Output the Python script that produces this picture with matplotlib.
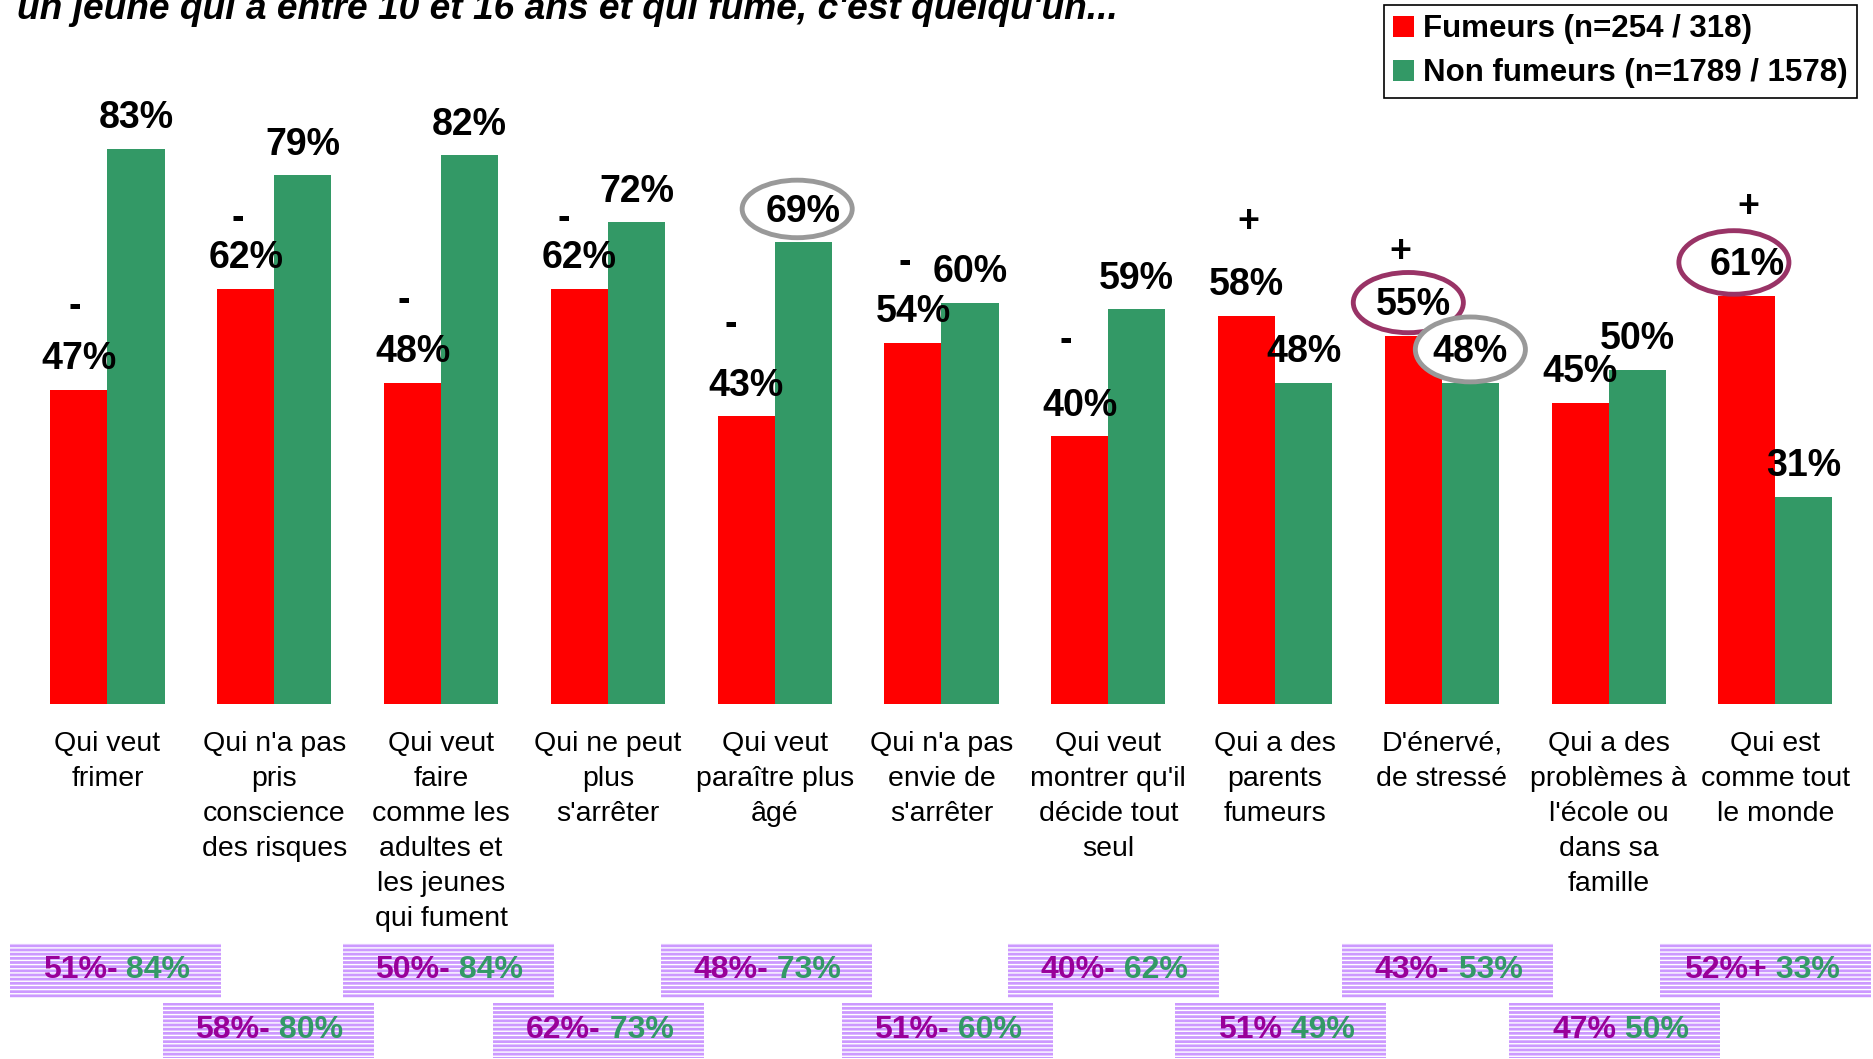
import numpy as np
import matplotlib.pyplot as plt
from matplotlib.patches import Ellipse, Rectangle

plt.rcParams['font.family'] = ['Liberation Sans', 'DejaVu Sans']
plt.rcParams['hatch.linewidth'] = 1.0

# Donnees
titre = "un jeune qui a entre 10 et 16 ans et qui fume, c'est quelqu'un..."
categories = ["Qui veut\nfrimer",
              "Qui n'a pas\npris\nconscience\ndes risques",
              "Qui veut\nfaire\ncomme les\nadultes et\nles jeunes\nqui fument",
              "Qui ne peut\nplus\ns'arrêter",
              "Qui veut\nparaître plus\nâgé",
              "Qui n'a pas\nenvie de\ns'arrêter",
              "Qui veut\nmontrer qu'il\ndécide tout\nseul",
              "Qui a des\nparents\nfumeurs",
              "D'énervé,\nde stressé",
              "Qui a des\nproblèmes à\nl'école ou\ndans sa\nfamille",
              "Qui est\ncomme tout\nle monde"]
fumeurs = [47, 62, 48, 62, 43, 54, 40, 58, 55, 45, 61]
non_fumeurs = [83, 79, 82, 72, 69, 60, 59, 48, 48, 50, 31]
signes = ['-', '-', '-', '-', '-', '-', '-', '+', '+', '', '+']
legende = ["Fumeurs (n=254 / 318)", "Non fumeurs (n=1789 / 1578)"]

# vague precedente (cartouches du bas)
avant_fumeurs = [51, 58, 50, 62, 48, 51, 40, 51, 43, 47, 52]
avant_signes = ['-', '-', '-', '-', '-', '-', '-', '', '-', '', '+']
avant_non_fumeurs = [84, 80, 84, 73, 73, 60, 62, 49, 53, 50, 33]

# valeurs entourees : (groupe, serie, couleur)
entoures = [(4, 1, '#999999'), (8, 0, '#993366'), (8, 1, '#999999'), (10, 0, '#993366')]

# reglages de placement faits a la main
signe_dx = [-0.025, -0.05, -0.05, -0.095, -0.095, -0.05, -0.085, 0.01, -0.08, 0, 0.01]
signe_dy = [12.3, 10.5, 12.2, 10.5, 13.6, 11.9, 14.3, 14.1, 12.5, 0, 13.3]
ellipse_dx = [-0.036, -0.03, 0.0, -0.078]
ellipse_h = [8.6, 9.0, 9.7, 9.5]
cartouche_dx = [0.048, -0.035, 0.042, -0.054, -0.048, 0.036, 0.03, 0.03, 0.036, 0.036, -0.06]

ROUGE = '#FF0000'
VERT = '#339966'
VIOLET = '#990099'

fig = plt.figure(figsize=(18.74, 10.59), dpi=100)
ax = fig.add_axes([0, 0, 1, 1])
ax.set_xlim(-0.6445, 10.591)
ax.set_ylim(-53.06, 105.23)
ax.axis('off')

x = np.arange(len(categories))
w = 0.342
b1 = ax.bar(x - w / 2, fumeurs, w, color=ROUGE, zorder=1)
b2 = ax.bar(x + w / 2, non_fumeurs, w, color=VERT, zorder=1)

for i in range(len(categories)):
    ax.text(x[i] - w / 2, fumeurs[i] + 4.6, f"{fumeurs[i]}%", ha='center', va='center',
            fontsize=27, fontweight='bold', zorder=4)
    ax.text(x[i] + w / 2, non_fumeurs[i] + 4.6, f"{non_fumeurs[i]}%", ha='center', va='center',
            fontsize=27, fontweight='bold', zorder=4)
    if signes[i]:
        ax.text(x[i] - w / 2 + signe_dx[i], fumeurs[i] + signe_dy[i], signes[i], ha='center',
                va='center', fontsize=27, fontweight='bold', zorder=4)
    ax.text(x[i], -4.0, categories[i], ha='center', va='top', fontsize=20.5, linespacing=1.45)

for k, (g, s, c) in enumerate(entoures):
    v = fumeurs[g] if s == 0 else non_fumeurs[g]
    xc = x[g] + (w / 2 if s == 1 else -w / 2) + ellipse_dx[k]
    e = Ellipse((xc, v + 5.0), 0.66, ellipse_h[k], facecolor='white', edgecolor=c,
                linewidth=3.5, zorder=2)
    ax.add_patch(e)

# cartouches vague precedente
bw = 1.265
for i in range(len(categories)):
    if i % 2 == 0:
        y0, y1 = -43.9, -35.7
    else:
        y0, y1 = -52.9, -44.7
    xc = x[i] + cartouche_dx[i]
    r = Rectangle((xc - bw / 2, y0), bw, y1 - y0, facecolor='#CC99FF', edgecolor='white',
                  hatch='----', linewidth=0, zorder=1)
    ax.add_patch(r)
    yc = (y0 + y1) / 2
    ax.text(xc + 0.01, yc, f"{avant_fumeurs[i]}%{avant_signes[i]}", ha='right', va='center',
            fontsize=23, fontweight='bold', color=VIOLET, zorder=3)
    ax.text(xc + 0.01, yc, f" {avant_non_fumeurs[i]}%", ha='left', va='center',
            fontsize=23, fontweight='bold', color=VERT, zorder=3)

fig.text(17 / 1874, 1 - 19 / 1059, titre, fontsize=26.75, fontweight='bold', style='italic',
         ha='left', va='baseline')

leg = ax.legend([b1, b2], legende, loc='upper right',
                bbox_to_anchor=(1857 / 1874, 1 - 5 / 1059), bbox_transform=fig.transFigure,
                prop={'weight': 'bold', 'size': 22.5}, frameon=True, fancybox=False,
                edgecolor='black', framealpha=1, borderaxespad=0, handlelength=0.65,
                handleheight=0.65, handletextpad=0.3, labelspacing=0.45, borderpad=0.3)
leg.get_frame().set_linewidth(1.2)

fig.savefig('out.png', dpi=100)
